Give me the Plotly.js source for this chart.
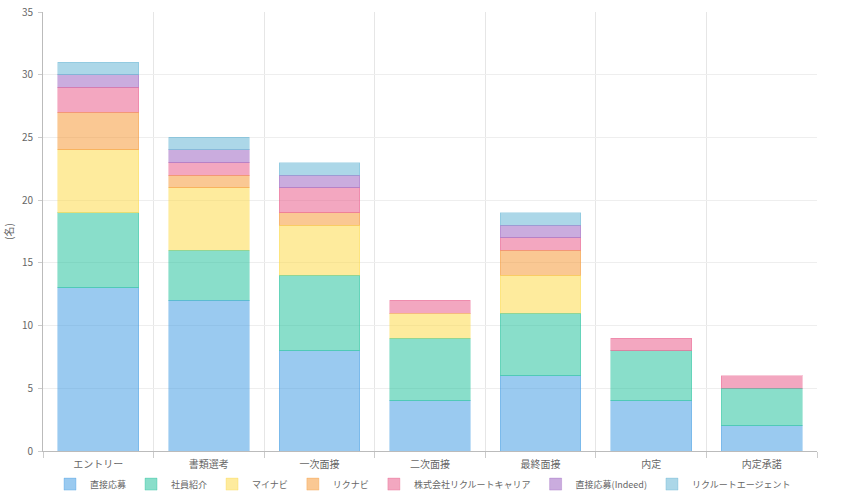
<!DOCTYPE html>
<html><head><meta charset="utf-8">
<script src="https://cdn.plot.ly/plotly-3.0.1.min.js"></script>
<style>html,body{margin:0;padding:0;background:#fff}#c{width:846px;height:495px}</style>
</head><body><div id="c"></div>
<script>
const categories = ["エントリー","書類選考","一次面接","二次面接","最終面接","内定","内定承諾"];
const seriesNames = ["直接応募","社員紹介","マイナビ","リクナビ","株式会社リクルートキャリア","直接応募(Indeed)","リクルートエージェント"];
const direct   = [13,12,8,4,6,4,2];
const referral = [6,4,6,5,5,4,3];
const mynavi   = [5,5,4,2,3,0,0];
const rikunabi = [3,1,1,0,2,0,0];
const recruitCareer = [2,1,2,1,1,1,1];
const indeed   = [1,1,1,0,1,0,0];
const agent    = [1,1,1,0,1,0,0];
const yTitle = "(名)";

const values = [direct,referral,mynavi,rikunabi,recruitCareer,indeed,agent];
const fills = ["rgba(54,150,225,0.5)","rgba(20,190,150,0.5)","rgba(253,215,60,0.5)","rgba(245,145,40,0.5)","rgba(232,80,130,0.5)","rgba(150,90,190,0.5)","rgba(90,175,210,0.5)"];
const lines = ["rgba(54,150,225,0.3)","rgba(20,190,150,0.3)","rgba(253,215,60,0.3)","rgba(245,145,40,0.3)","rgba(232,80,130,0.3)","rgba(150,90,190,0.3)","rgba(90,175,210,0.3)"];

const traces = seriesNames.map((n,i)=>({
  type:"bar", name:n, x:categories, y:values[i].map(v=>v===0?null:v),
  marker:{color:fills[i], line:{color:lines[i], width:1}},
  hoverinfo:"x+y+name"
}));

const font = {family:"'Noto Sans CJK JP', 'Noto Sans', sans-serif", size:10, color:"#666"};
const lfont = {family:"'Noto Sans CJK JP', 'Noto Sans', sans-serif", size:9, color:"#666"};
Plotly.newPlot("c", traces, {
  width:846, height:495, barmode:"stack", bargap:0.27,
  margin:{l:43,r:29,t:12,b:44, autoexpand:false},
  paper_bgcolor:"#fff", plot_bgcolor:"#fff", font:font,
  xaxis:{type:"category", tickson:"boundaries", showgrid:true, gridcolor:"#e6e6e6",
    linecolor:"#bbb", showline:true, ticks:"outside", ticklen:6, tickcolor:"#ccc", tickfont:font, ticklabelstandoff:4},
  yaxis:{range:[0,35], dtick:5, showgrid:true, gridcolor:"#eee", zeroline:false,
    showline:true, linecolor:"#bbb", ticks:"outside", ticklen:4, tickcolor:"#ccc", tickfont:font, ticklabelstandoff:3,
    title:{text:yTitle, font:font, standoff:6}},
  legend:{orientation:"h", xref:"container", x:0.5, xanchor:"center", yref:"container", y:0.022, yanchor:"middle",
    font:lfont, traceorder:"normal", itemwidth:30},
  showlegend:true
}, {displayModeBar:false});
</script></body></html>
